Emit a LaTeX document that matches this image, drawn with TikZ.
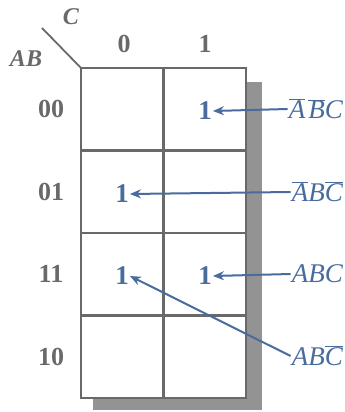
\documentclass[tikz,border=0pt]{standalone}
\usepackage{fontspec}
\setmainfont{Liberation Serif}
\usetikzlibrary{arrows.meta, positioning}
\definecolor{kblue}{RGB}{72,108,158}
\definecolor{kgray}{RGB}{105,105,105}
\newcommand{\ovl}[1]{$\overline{\mbox{#1}}$}

\begin{document}
\begin{tikzpicture}[x=1pt, y=-1pt, >={Stealth[length=11pt, width=9pt]},
    lbl/.style={text=kgray, font=\bfseries\fontsize{26}{26}\selectfont},
    one/.style={text=kblue, font=\bfseries\fontsize{27}{27}\selectfont, inner sep=1pt},
    term/.style={text=kblue, anchor=east, inner sep=1pt, font=\itshape\fontsize{27}{27}\selectfont},
    arr/.style={->, kblue, line width=2pt}]
    \useasboundingbox (0,0) rectangle (345,412);
    % shadow and grid
    \fill[gray!85] (93,82) rectangle (262,410);
    \fill[white] (81,68) rectangle (246,398);
    \draw[kgray, line width=2.4pt] (81,68) rectangle (246,398);
    \draw[kgray, line width=2.4pt] (163.5,68) -- (163.5,398);
    \foreach \y in {150.5,233,315.5}
        \draw[kgray, line width=2.4pt] (81,\y) -- (246,\y);
    % corner
    \draw[kgray, line width=1.8pt] (42,28) -- (81,68);
    \node[lbl, font=\bfseries\itshape\fontsize{24}{24}\selectfont] (c) at (71,17) {C};
    \node[lbl, font=\bfseries\itshape\fontsize{24}{24}\selectfont] (ab) at (26,59) {AB};
    \node[lbl] (c0) at (124,44) {0};
    \node[lbl] (c1) at (205,44) {1};
    \foreach \t [count=\i] in {00,01,11,10}
        \node[lbl] (r\i) at (51,{109+82.5*(\i-1)}) {\t};
    % ones
    \node[one] (m1) at (205,111) {1};
    \node[one] (m2) at (122,194) {1};
    \node[one] (m3) at (122,276) {1};
    \node[one] (m4) at (205,276) {1};
    % minterms
    \node[term] (t1) at (344,109) {\ovl{A}\kern3pt\ovl{B}C};
    \node[term] (t2) at (344,192) {\ovl{A}B\ovl{C}};
    \node[term] (t3) at (344,274) {ABC};
    \node[term] (t4) at (344,356) {AB\ovl{C}};
    \draw[arr] (t1.west) -- (m1.east);
    \draw[arr] (t2.west) -- (m2.east);
    \draw[arr] (t3.west) -- (m4.east);
    \draw[arr] (t4.west) -- (m3.east);
\end{tikzpicture}
\end{document}
